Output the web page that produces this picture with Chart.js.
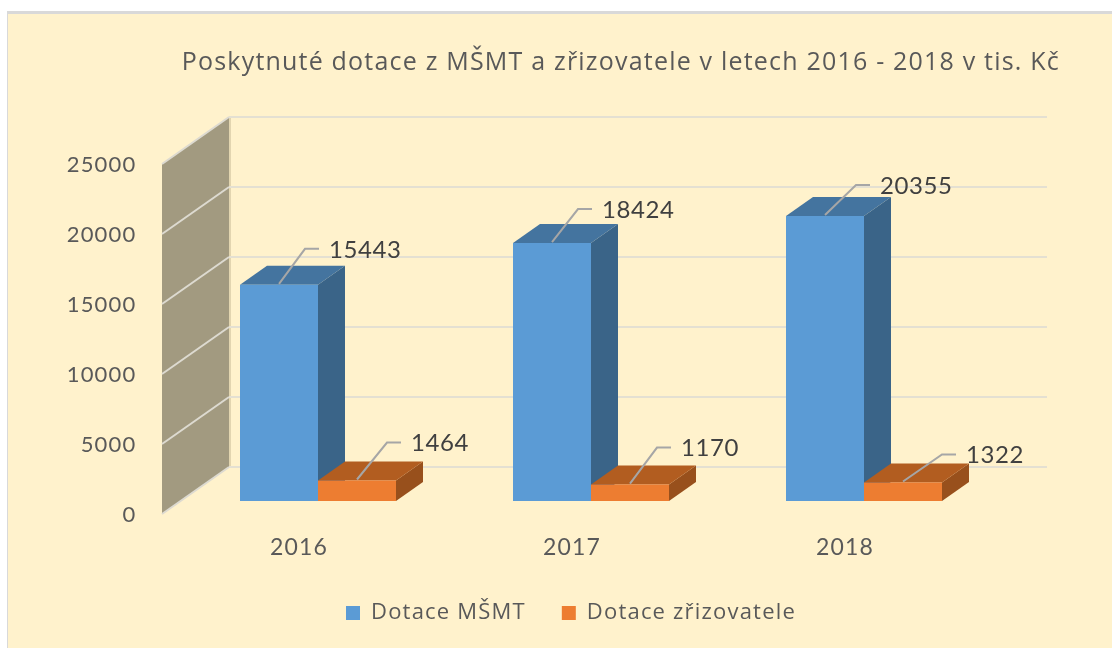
<!DOCTYPE html>
<html lang="cs">
<head>
<meta charset="utf-8">
<title>Dotace</title>
<style>
    html, body { margin: 0; padding: 0; background: #fff; }
    canvas { display: block; }
</style>
</head>
<body>
<canvas id="graf" width="1112" height="648"></canvas>
<script src="https://cdn.jsdelivr.net/npm/chart.js@4"></script>
<script>
const titulek = 'Poskytnuté dotace z MŠMT a zřizovatele v letech 2016 - 2018 v tis. Kč';
const roky = ['2016', '2017', '2018'];
const dotaceMsmt = [15443, 18424, 20355];
const dotaceZrizovatele = [1464, 1170, 1322];
const znackyOsy = [0, 5000, 10000, 15000, 20000, 25000];

const PISMO = 'Lato, sans-serif';
const PISMO_TEXT = '"Open Sans", sans-serif';
const HLOUBKA_SLOUPCE = { x: 27, y: -19 };
const STENA = { dopredu: 13, dozadu: -34, sirka: 67 };
const PRAVY_KRAJ_MRIZKY = 1047;

// posun popisku od horni hrany sloupce (jen vzhled, ne data)
const odsazeniPopisku = [
    [{ x: 26, y: -36 }, { x: 26, y: -34 }, { x: 31, y: -31 }],
    [{ x: 30, y: -38 }, { x: 27, y: -37 }, { x: 39, y: -28 }]
];

const stylySloupcu = [
    { bok: '#3A6488', vrch: '#44749F' },
    { bok: '#98501C', vrch: '#B25D20' }
];

function mnohouhelnik(ctx, body, barva) {
    ctx.fillStyle = barva;
    ctx.beginPath();
    body.forEach(([x, y], i) => (i ? ctx.lineTo(x, y) : ctx.moveTo(x, y)));
    ctx.closePath();
    ctx.fill();
}

function cara(ctx, body, barva, sirka) {
    ctx.strokeStyle = barva;
    ctx.lineWidth = sirka;
    ctx.beginPath();
    body.forEach(([x, y], i) => (i ? ctx.lineTo(x, y) : ctx.moveTo(x, y)));
    ctx.stroke();
}

const pozadiPlugin = {
    id: 'pozadi',
    afterInit(chart) {
        // text v originale je prostrkany
        chart.ctx.letterSpacing = '1.2px';
    },
    afterLayout(chart) {
        // legenda neni v originale na stredu platna
        chart.legend.left += 22;
    },
    beforeDraw(chart) {
        const { ctx, width, height, chartArea } = chart;
        const osaY = chart.scales.y;
        ctx.save();
        ctx.fillStyle = '#D9D9D9';
        ctx.fillRect(7, 11, width - 7, height - 11);
        ctx.fillStyle = '#FFF2CC';
        ctx.fillRect(8, 14, width - 8, height - 14);

        // bocni stena grafu
        const vpredu = chartArea.left - 19.5;
        const vzadu = vpredu + STENA.sirka;
        const y0 = osaY.getPixelForValue(znackyOsy[0]);
        const yMax = osaY.getPixelForValue(znackyOsy[znackyOsy.length - 1]);
        mnohouhelnik(ctx, [
            [vzadu, yMax + STENA.dozadu], [vzadu + 2, yMax + STENA.dozadu],
            [vzadu + 2, y0 + STENA.dozadu], [vzadu, y0 + STENA.dozadu]
        ], '#E2D5B0');
        mnohouhelnik(ctx, [
            [vpredu, yMax + STENA.dopredu], [vzadu, yMax + STENA.dozadu],
            [vzadu, y0 + STENA.dozadu], [vpredu, y0 + STENA.dopredu]
        ], '#A29A80');

        // mrizka na stene a na zadni strane
        znackyOsy.forEach(hodnota => {
            const y = osaY.getPixelForValue(hodnota);
            cara(ctx, [[vpredu, y + STENA.dopredu], [vzadu, y + STENA.dozadu]], '#DDDAD0', 2);
            cara(ctx, [[vzadu, y + STENA.dozadu], [PRAVY_KRAJ_MRIZKY, y + STENA.dozadu]], '#E4E0D2', 2);
        });
        ctx.restore();
    },
    beforeDatasetsDraw(chart) {
        const { ctx } = chart;
        ctx.save();
        chart.data.datasets.forEach((_, d) => {
            chart.getDatasetMeta(d).data.forEach(sloupec => {
                const levo = sloupec.x - sloupec.width / 2;
                const pravo = sloupec.x + sloupec.width / 2;
                const dx = HLOUBKA_SLOUPCE.x;
                const dy = HLOUBKA_SLOUPCE.y;
                mnohouhelnik(ctx, [
                    [pravo, sloupec.y], [pravo + dx, sloupec.y + dy],
                    [pravo + dx, sloupec.base + dy], [pravo, sloupec.base]
                ], stylySloupcu[d].bok);
                mnohouhelnik(ctx, [
                    [levo, sloupec.y], [levo + dx, sloupec.y + dy],
                    [pravo + dx, sloupec.y + dy], [pravo, sloupec.y]
                ], stylySloupcu[d].vrch);
            });
        });
        ctx.restore();
    },
    afterDatasetsDraw(chart) {
        const { ctx } = chart;
        ctx.save();
        ctx.font = '24px ' + PISMO;
        ctx.letterSpacing = '0.6px';
        ctx.fillStyle = '#404040';
        ctx.textAlign = 'left';
        ctx.textBaseline = 'middle';
        chart.data.datasets.forEach((sada, d) => {
            chart.getDatasetMeta(d).data.forEach((sloupec, i) => {
                const posun = odsazeniPopisku[d][i];
                const ohybX = sloupec.x + posun.x;
                const ohybY = sloupec.y + posun.y;
                cara(ctx, [
                    [sloupec.x, sloupec.y - 1], [ohybX, ohybY], [ohybX + 14, ohybY]
                ], '#A6A6A6', 2);
                ctx.fillText(String(sada.data[i]), ohybX + 24, ohybY + 1);
            });
        });
        ctx.restore();
    }
};

new Chart(document.getElementById('graf'), {
    type: 'bar',
    data: {
        labels: roky,
        datasets: [
            { label: 'Dotace MŠMT', data: dotaceMsmt, backgroundColor: '#5B9BD5' },
            { label: 'Dotace zřizovatele', data: dotaceZrizovatele, backgroundColor: '#ED7D31' }
        ]
    },
    options: {
        responsive: false,
        animation: false,
        datasets: { bar: { barPercentage: 1, categoryPercentage: 0.5714 } },
        layout: { padding: { left: 60, right: 52, top: 0, bottom: 14 } },
        plugins: {
            title: {
                display: true,
                text: titulek,
                align: 'end',
                color: '#595959',
                font: { family: PISMO_TEXT, size: 25, weight: 'normal' },
                padding: { top: 48, bottom: 73 }
            },
            legend: {
                position: 'bottom',
                labels: {
                    color: '#595959',
                    font: { family: PISMO_TEXT, size: 22 },
                    boxWidth: 14,
                    boxHeight: 14,
                    padding: 36
                }
            },
            tooltip: { enabled: false }
        },
        scales: {
            x: {
                grid: { display: false, drawTicks: false },
                border: { display: false },
                ticks: {
                    color: '#595959',
                    font: { family: PISMO, size: 23 },
                    padding: 33,
                    labelOffset: -19,
                    maxRotation: 0
                },
                afterFit: osa => { osa.height = 65; }
            },
            y: {
                min: 0,
                max: 25000,
                grid: { display: false, drawTicks: false },
                border: { display: false },
                ticks: {
                    stepSize: 5000,
                    color: '#595959',
                    font: { family: PISMO, size: 22 },
                    padding: 45,
                    labelOffset: 14,
                    callback: hodnota => String(hodnota)
                },
                afterFit: osa => { osa.width = 121.5; }
            },
            // prazdna osa jen drzi misto vpravo
            vpravo: {
                position: 'right',
                grid: { display: false, drawTicks: false },
                border: { display: false },
                ticks: { display: false },
                afterFit: osa => { osa.width = 59.5; }
            }
        }
    },
    plugins: [pozadiPlugin]
});
</script>
</body>
</html>
